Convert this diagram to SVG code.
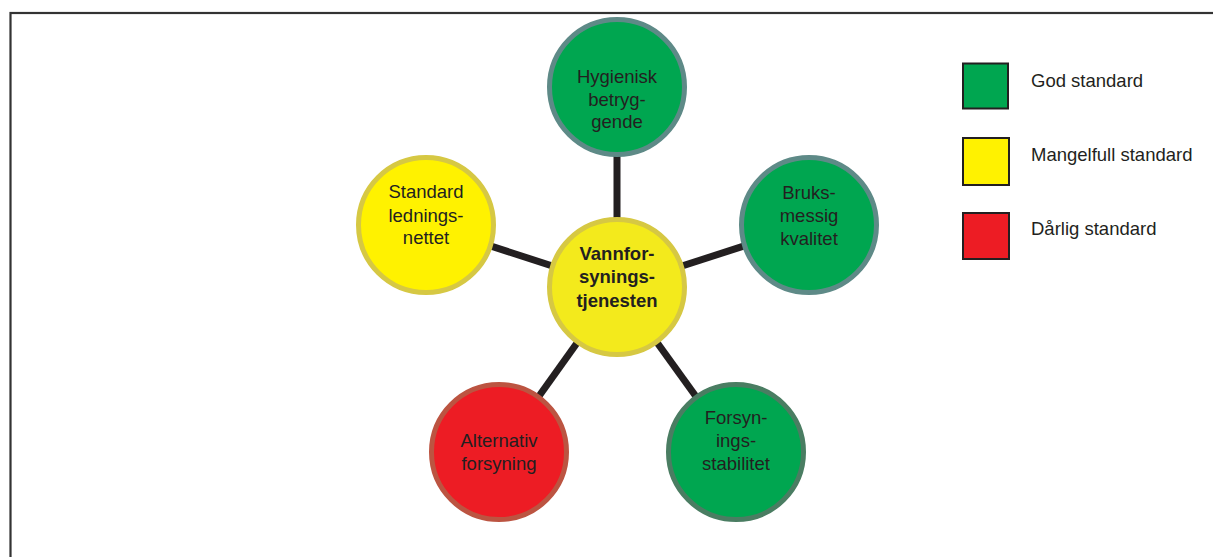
<svg xmlns="http://www.w3.org/2000/svg" width="1213" height="557" viewBox="0 0 1213 557">
<style>
.t{font-family:"Liberation Sans",Arial,sans-serif;font-size:18.5px;fill:#231f20;text-anchor:middle}
.b{font-weight:bold}
.lg{text-anchor:start}
.node{stroke-width:5}
.green{fill:#00a650}
.yellow{fill:#fff200;stroke:#d6c843}
.red{fill:#ed1c24;stroke:#bc5441}
.sw{stroke:#231f20;stroke-width:2}
</style>
<rect x="0" y="0" width="1213" height="557" fill="#ffffff"/>
<rect x="10.5" y="13" width="1300" height="600" fill="none" stroke="#333333" stroke-width="2.2"/>
<g id="connectors" stroke="#231f20" stroke-width="7" stroke-linecap="butt">
<line x1="617" y1="287" x2="617" y2="87"/>
<line x1="617" y1="287" x2="809" y2="225"/>
<line x1="617" y1="287" x2="426" y2="225"/>
<line x1="617" y1="287" x2="499" y2="452"/>
<line x1="617" y1="287" x2="736" y2="452"/>
</g>
<g id="node-hygienisk">
<circle class="node green" cx="617" cy="87" r="67.5" stroke="#5e8a87"/>
<text class="t" x="617" y="83">Hygienisk</text>
<text class="t" x="617" y="106">betryg-</text>
<text class="t" x="617" y="128">gende</text>
</g>
<g id="node-bruksmessig">
<circle class="node green" cx="809" cy="225" r="67.5" stroke="#5e8a87"/>
<text class="t" x="809" y="199">Bruks-</text>
<text class="t" x="809" y="222">messig</text>
<text class="t" x="809" y="245">kvalitet</text>
</g>
<g id="node-standard">
<circle class="node yellow" cx="426" cy="225" r="67.5"/>
<text class="t" x="426" y="198">Standard</text>
<text class="t" x="426" y="222">lednings-</text>
<text class="t" x="426" y="244">nettet</text>
</g>
<g id="node-vannforsyning">
<circle class="node" cx="617" cy="287" r="67.5" fill="#f3ea1c" stroke="#d6c843"/>
<text class="t b" x="617" y="260">Vannfor-</text>
<text class="t b" x="617" y="283">synings-</text>
<text class="t b" x="617" y="307">tjenesten</text>
</g>
<g id="node-alternativ">
<circle class="node red" cx="499" cy="452" r="67.5"/>
<text class="t" x="499" y="447">Alternativ</text>
<text class="t" x="499" y="470">forsyning</text>
</g>
<g id="node-forsyningsstabilitet">
<circle class="node green" cx="736" cy="452" r="67.5" stroke="#4a7d62"/>
<text class="t" x="736" y="424">Forsyn-</text>
<text class="t" x="736" y="447">ings-</text>
<text class="t" x="736" y="470">stabilitet</text>
</g>
<g id="legend">
<rect class="sw" x="963" y="63.5" width="45" height="45" fill="#00a650"/>
<text class="t lg" x="1031" y="87">God standard</text>
<rect class="sw" x="963" y="138" width="46" height="47" fill="#fff200"/>
<text class="t lg" x="1031" y="161">Mangelfull standard</text>
<rect class="sw" x="963" y="213" width="46" height="46" fill="#ed1c24"/>
<text class="t lg" x="1031" y="235">Dårlig standard</text>
</g>
</svg>
